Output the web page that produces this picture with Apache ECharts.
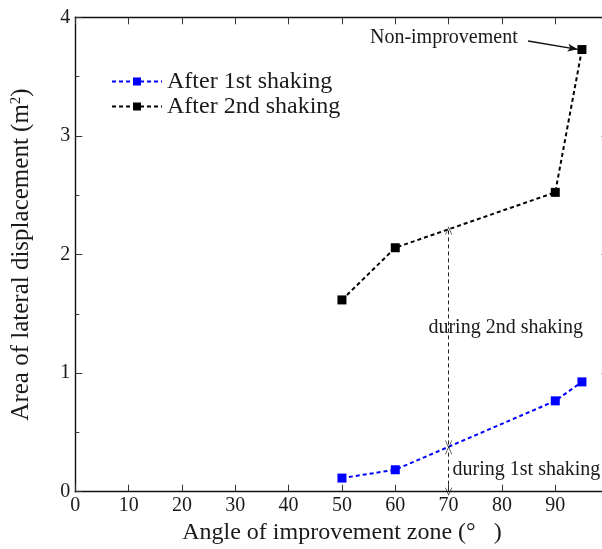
<!DOCTYPE html>
<html>
<head>
<meta charset="utf-8">
<script src="https://cdn.jsdelivr.net/npm/echarts@6/dist/echarts.min.js"></script>
<style>
html,body{margin:0;padding:0;background:#fff;}
#chart{width:602px;height:549px;}
</style>
</head>
<body>
<div id="chart"></div>
<script>
// ---- data ----
const angles = [50, 60, 90, 95];
const after1st = [0.115, 0.185, 0.766, 0.926];
const after2nd = [1.617, 2.057, 2.524, 3.728];
const seriesNames = ['After 1st shaking', 'After 2nd shaking'];
const xTickValues = [0, 10, 20, 30, 40, 50, 60, 70, 80, 90];
const yTickValues = [0, 1, 2, 3, 4];
const xTitle = 'Angle of improvement zone (°   )';
const yTitle = 'Area of lateral displacement (m{sup|2})';
// annotations (data coordinates)
const gapAngle = 70;
const nonImpText = 'Non-improvement';
const nonImpTextPos = [69.1, 3.83];
const nonImpArrow = [[84.9, 3.80], [94.2, 3.73]];
const during2ndText = 'during 2nd shaking';
const during2ndPos = [80.7, 1.384];
const during1stText = 'during 1st shaking';
const during1stPos = [84.6, 0.185];

function interp(xs, ys, x) {
  for (let i = 0; i < xs.length - 1; i++) {
    if (x >= xs[i] && x <= xs[i + 1]) {
      const t = (x - xs[i]) / (xs[i + 1] - xs[i]);
      return ys[i] + t * (ys[i + 1] - ys[i]);
    }
  }
  return null;
}
const y1At = interp(angles, after1st, gapAngle);
const y2At = interp(angles, after2nd, gapAngle);

const FONT = "'Liberation Serif','Times New Roman',serif";
const TXT = '#1a1a1a';
const openArrow = 'path://M5,0 L10,10 L9,10 L5,1.8 L1,10 L0,10 Z';

const chart = echarts.init(document.getElementById('chart'), null, {renderer: 'canvas'});

function axisBase() {
  return {
    axisLine: {show: true, onZero: false, lineStyle: {color: '#111', width: 1.4}},
    axisTick: {show: true, inside: true, length: 7, lineStyle: {color: '#333', width: 1}},
    splitLine: {show: false}
  };
}

const option = {
  animation: false,
  backgroundColor: '#fff',
  grid: {left: 75.3, right: -6.6, top: 17.3, bottom: 57.3, containLabel: false, outerBoundsMode: 'none'},
  legend: {
    left: 111, top: 69, orient: 'vertical', padding: 0,
    itemWidth: 50, itemHeight: 10, itemGap: 0,
    textStyle: {fontFamily: FONT, fontSize: 24, color: TXT, lineHeight: 25},
    data: seriesNames
  },
  xAxis: [
    Object.assign(axisBase(), {
      type: 'value', position: 'bottom', min: 0, max: 100, interval: 10,
      name: xTitle, nameLocation: 'middle', nameGap: 27,
      nameTextStyle: {fontFamily: FONT, fontSize: 24, color: TXT},
      axisLabel: {fontFamily: FONT, fontSize: 20, color: TXT, margin: 4,
        formatter: v => (xTickValues.indexOf(v) >= 0 ? String(v) : '')}
    }),
    Object.assign(axisBase(), {
      type: 'value', position: 'top', min: 0, max: 100, interval: 10,
      axisLabel: {show: false}
    })
  ],
  yAxis: [
    Object.assign(axisBase(), {
      type: 'value', position: 'left', min: 0, max: 4, interval: 1,
      name: yTitle, nameLocation: 'middle', nameGap: 40,
      nameTextStyle: {fontFamily: FONT, fontSize: 25, color: TXT,
        rich: {sup: {fontFamily: FONT, fontSize: 15, color: TXT, verticalAlign: 'top', padding: [0, 0, 12, 0]}}},
      minorTick: {show: true, splitNumber: 2, length: 4, lineStyle: {color: '#333'}},
      axisLabel: {fontFamily: FONT, fontSize: 20, color: TXT, margin: 5,
        formatter: v => (yTickValues.indexOf(v) >= 0 ? String(v) : '')}
    }),
    Object.assign(axisBase(), {
      type: 'value', position: 'right', min: 0, max: 4, interval: 1,
      minorTick: {show: true, splitNumber: 2, length: 4, lineStyle: {color: '#333'}},
      axisLabel: {show: false}
    })
  ],
  series: [
    {
      name: seriesNames[0], type: 'line', xAxisIndex: 0, yAxisIndex: 0,
      data: angles.map((a, i) => [a, after1st[i]]),
      symbol: 'rect', symbolSize: 9,
      itemStyle: {color: '#0000ff'},
      lineStyle: {color: '#0000ff', width: 2, type: [4, 3]},
      z: 3
    },
    {
      name: seriesNames[1], type: 'line', xAxisIndex: 0, yAxisIndex: 0,
      data: angles.map((a, i) => [a, after2nd[i]]),
      symbol: 'rect', symbolSize: 9,
      itemStyle: {color: '#000'},
      lineStyle: {color: '#000', width: 2, type: [4, 3]},
      z: 3,
      markLine: {
        silent: true,
        label: {show: false},
        lineStyle: {color: '#222', width: 1, type: [4, 3]},
        symbol: [openArrow, openArrow],
        symbolSize: [7, 8],
        data: [
          [{coord: [gapAngle, y1At + 0.02]}, {coord: [gapAngle, y2At - 0.01]}],
          [{coord: [gapAngle, 0]}, {coord: [gapAngle, y1At - 0.03]}],
          [{coord: nonImpArrow[0], symbol: 'none', lineStyle: {type: 'solid', width: 1.4, color: '#111'}},
           {coord: nonImpArrow[1], symbol: 'arrow', symbolSize: [6, 10]}]
        ]
      },
      markPoint: {
        silent: true,
        symbol: 'circle', symbolSize: 0,
        label: {show: true, position: 'inside', fontFamily: FONT, fontSize: 20, color: TXT},
        data: [
          {coord: nonImpTextPos, label: {formatter: nonImpText}},
          {coord: during2ndPos, label: {formatter: during2ndText}},
          {coord: during1stPos, label: {formatter: during1stText}}
        ]
      }
    }
  ]
};
chart.setOption(option);
</script>
</body>
</html>
